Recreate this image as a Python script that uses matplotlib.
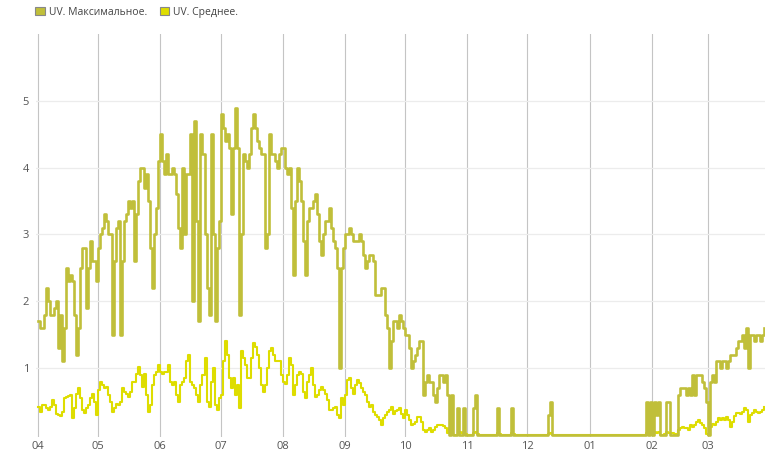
import pandas as pd
import matplotlib
matplotlib.use("Agg")
from matplotlib import pyplot as plt
import matplotlib.dates as mdates
from matplotlib.patches import Patch

plt.rcParams['font.family'] = ['Open Sans', 'DejaVu Sans']

start_date = '2021-04-01'
series_names = ['UV. Максимальное.', 'UV. Среднее.']
max_colour = '#c0bf3a'
avg_colour = '#dedd00'

# daily maximum UV, one row per month (Apr .. Mar)
uv_max = [
    1.7, 1.6, 1.6, 1.8, 2.2, 2.0, 1.8, 1.8, 1.9, 2.0, 1.3, 1.8, 1.1, 1.6, 2.5, 2.3, 2.4, 2.3, 1.8, 1.2, 1.6, 2.5, 2.8, 2.8, 1.9, 2.5, 2.9, 2.6, 2.6, 2.3,
    2.8, 3.0, 3.1, 3.3, 3.2, 3.0, 3.0, 1.5, 2.6, 3.1, 3.2, 1.5, 2.6, 3.2, 3.3, 3.5, 3.4, 3.5, 2.6, 3.3, 3.8, 4.0, 4.0, 3.7, 3.9, 3.5, 2.8, 2.2, 3.0, 3.4, 4.1,
    4.5, 4.1, 3.9, 4.2, 3.9, 3.9, 4.0, 3.9, 3.6, 3.1, 2.8, 4.0, 3.0, 3.9, 3.9, 4.5, 2.0, 4.7, 3.2, 1.7, 4.5, 4.2, 3.0, 2.2, 1.8, 4.5, 3.0, 1.7, 2.8, 3.2,
    4.8, 4.6, 4.4, 4.5, 4.3, 3.3, 4.3, 4.9, 4.3, 1.8, 3.0, 4.2, 4.1, 4.0, 4.2, 4.6, 4.8, 4.6, 4.4, 4.3, 4.2, 4.2, 2.8, 3.0, 4.5, 4.2, 4.2, 4.1, 4.0, 4.2, 4.3,
    4.3, 4.0, 3.9, 4.0, 3.4, 2.4, 3.5, 4.0, 3.8, 3.5, 2.9, 2.4, 3.2, 3.4, 3.4, 3.5, 3.6, 3.3, 2.9, 2.7, 3.0, 3.2, 3.2, 3.4, 3.1, 2.9, 2.8, 2.5, 1.0, 2.5, 2.8,
    3.0, 3.0, 3.1, 3.0, 2.9, 2.9, 2.9, 3.0, 2.9, 2.7, 2.5, 2.6, 2.7, 2.7, 2.6, 2.1, 2.1, 2.1, 2.2, 2.2, 1.8, 1.6, 1.0, 1.4, 1.7, 1.7, 1.6, 1.8, 1.7, 1.6,
    1.5, 1.5, 1.3, 1.0, 1.1, 1.2, 1.3, 1.4, 1.4, 0.6, 0.8, 0.9, 0.8, 0.8, 0.6, 0.5, 0.7, 0.9, 0.9, 0.8, 0.9, 0.6, 0.0, 0.6, 0.0, 0.0, 0.4, 0.0, 0.0, 0.4, 0.0,
    0.0, 0.0, 0.0, 0.4, 0.6, 0.0, 0.0, 0.0, 0.0, 0.0, 0.0, 0.0, 0.0, 0.0, 0.0, 0.4, 0.0, 0.0, 0.0, 0.0, 0.0, 0.0, 0.4, 0.0, 0.0, 0.0, 0.0, 0.0, 0.0, 0.0,
    0.0, 0.0, 0.0, 0.0, 0.0, 0.0, 0.0, 0.0, 0.0, 0.0, 0.3, 0.5, 0.0, 0.0, 0.0, 0.0, 0.0, 0.0, 0.0, 0.0, 0.0, 0.0, 0.0, 0.0, 0.0, 0.0, 0.0, 0.0, 0.0, 0.0, 0.0,
    0.0, 0.0, 0.0, 0.0, 0.0, 0.0, 0.0, 0.0, 0.0, 0.0, 0.0, 0.0, 0.0, 0.0, 0.0, 0.0, 0.0, 0.0, 0.0, 0.0, 0.0, 0.0, 0.0, 0.0, 0.0, 0.0, 0.0, 0.0, 0.5, 0.0, 0.5,
    0.0, 0.5, 0.3, 0.5, 0.0, 0.0, 0.0, 0.5, 0.5, 0.0, 0.0, 0.0, 0.0, 0.6, 0.7, 0.7, 0.7, 0.6, 0.7, 0.6, 0.9, 0.6, 0.9, 0.9, 0.9, 0.8, 0.7, 0.5,
    0.0, 0.8, 0.9, 0.8, 1.1, 1.1, 1.0, 1.1, 1.1, 1.0, 1.1, 1.2, 1.2, 1.2, 1.3, 1.4, 1.4, 1.5, 1.3, 1.6, 1.0, 1.5, 1.5, 1.4, 1.5, 1.5, 1.4, 1.5, 1.6,
]

# daily average UV
uv_avg = [
    0.42, 0.35, 0.45, 0.45, 0.4, 0.38, 0.42, 0.52, 0.45, 0.32, 0.3, 0.28, 0.35, 0.55, 0.57, 0.58, 0.6, 0.25, 0.4, 0.62, 0.7, 0.55, 0.38, 0.33, 0.4, 0.45, 0.55, 0.62, 0.5, 0.3,
    0.67, 0.8, 0.75, 0.7, 0.72, 0.6, 0.5, 0.35, 0.4, 0.47, 0.45, 0.5, 0.7, 0.65, 0.62, 0.57, 0.65, 0.8, 0.8, 0.92, 1.02, 0.9, 0.72, 0.92, 0.6, 0.35, 0.45, 0.75, 0.9, 0.95, 1.05,
    0.95, 0.92, 0.95, 0.95, 1.05, 0.8, 0.75, 0.8, 0.6, 0.5, 0.75, 0.8, 0.85, 1.1, 1.2, 0.8, 0.75, 0.7, 0.6, 0.5, 0.75, 0.9, 1.15, 0.5, 0.42, 0.8, 1.0, 0.45, 0.38, 0.55,
    0.6, 1.1, 1.4, 1.2, 0.85, 0.7, 0.85, 0.6, 0.75, 0.4, 1.25, 1.15, 1.05, 0.85, 0.85, 1.15, 1.37, 1.32, 1.2, 1.0, 0.75, 0.65, 0.75, 1.0, 1.25, 1.3, 1.2, 1.1, 1.1, 1.1, 0.9,
    0.8, 0.77, 0.9, 1.15, 1.05, 0.6, 0.75, 0.9, 0.95, 0.92, 0.65, 0.55, 0.8, 0.9, 1.0, 0.75, 0.57, 0.6, 0.68, 0.72, 0.67, 0.62, 0.52, 0.38, 0.37, 0.4, 0.42, 0.3, 0.25, 0.55, 0.45,
    0.6, 0.82, 0.85, 0.7, 0.62, 0.75, 0.82, 0.78, 0.7, 0.65, 0.6, 0.5, 0.42, 0.45, 0.35, 0.3, 0.27, 0.22, 0.15, 0.25, 0.3, 0.35, 0.38, 0.42, 0.32, 0.36, 0.38, 0.4, 0.32, 0.25,
    0.38, 0.3, 0.22, 0.15, 0.17, 0.2, 0.27, 0.27, 0.2, 0.07, 0.05, 0.08, 0.1, 0.05, 0.08, 0.12, 0.15, 0.15, 0.15, 0.13, 0.1, 0.03, 0.1, 0.05, 0.0, 0.0, 0.0, 0.05, 0.03, 0.05, 0.02,
    0.0, 0.0, 0.0, 0.03, 0.05, 0.02, 0.0, 0.0, 0.0, 0.0, 0.0, 0.0, 0.0, 0.0, 0.0, 0.03, 0.02, 0.0, 0.0, 0.0, 0.0, 0.0, 0.03, 0.02, 0.0, 0.0, 0.0, 0.0, 0.0, 0.0,
    0.0, 0.0, 0.0, 0.0, 0.0, 0.0, 0.0, 0.0, 0.0, 0.0, 0.02, 0.03, 0.0, 0.0, 0.0, 0.0, 0.0, 0.0, 0.0, 0.0, 0.0, 0.0, 0.0, 0.0, 0.0, 0.0, 0.0, 0.0, 0.0, 0.0, 0.0,
    0.0, 0.0, 0.0, 0.0, 0.0, 0.0, 0.0, 0.0, 0.0, 0.0, 0.0, 0.0, 0.0, 0.0, 0.0, 0.0, 0.0, 0.0, 0.0, 0.0, 0.0, 0.0, 0.0, 0.0, 0.0, 0.0, 0.0, 0.0, 0.03, 0.0, 0.03,
    0.02, 0.05, 0.03, 0.05, 0.0, 0.0, 0.02, 0.05, 0.03, 0.03, 0.03, 0.02, 0.02, 0.08, 0.1, 0.12, 0.1, 0.1, 0.08, 0.15, 0.12, 0.15, 0.2, 0.22, 0.18, 0.15, 0.1, 0.02,
    0.0, 0.12, 0.17, 0.15, 0.2, 0.25, 0.23, 0.25, 0.23, 0.27, 0.22, 0.12, 0.2, 0.28, 0.33, 0.33, 0.32, 0.35, 0.4, 0.38, 0.2, 0.3, 0.33, 0.37, 0.35, 0.33, 0.35, 0.38, 0.42,
]

y_ticks = [1, 2, 3, 4, 5]

dates = pd.date_range(start_date, periods=len(uv_max), freq='D')

fig = plt.figure(figsize=(7.65, 4.51), dpi=100)
ax = fig.add_axes([36 / 765, 14 / 451, 729 / 765, 403 / 451])

ax.plot(dates, uv_avg, color=avg_colour, lw=1.5, drawstyle='steps-post', zorder=3)
ax.plot(dates, uv_max, color=max_colour, lw=1.9, drawstyle='steps-post', zorder=4)

ax.set_xlim(dates[0] - pd.Timedelta(days=1), dates[-1] + pd.Timedelta(hours=10))
ax.set_ylim(-0.03, 6.0)

ax.xaxis.set_major_locator(mdates.MonthLocator())
ax.xaxis.set_major_formatter(mdates.DateFormatter('%m'))
ax.set_yticks(y_ticks)

ax.grid(axis='x', color='#c4c4c4', lw=0.8, zorder=1)
ax.grid(axis='y', color='#ececec', lw=0.9, zorder=0)
for side in ['top', 'right', 'left', 'bottom']:
    ax.spines[side].set_visible(False)
ax.tick_params(axis='both', length=0, labelsize=8, colors='#555555')
ax.tick_params(axis='x', pad=3)
ax.tick_params(axis='y', pad=5)

handles = [Patch(facecolor=max_colour, edgecolor='#888888', lw=0.8),
           Patch(facecolor=avg_colour, edgecolor='#888888', lw=0.8)]
fig.legend(handles, series_names, loc='upper left', bbox_to_anchor=(26 / 765, 1.006),
           ncol=2, frameon=False, fontsize=7.5, handlelength=0.9, handleheight=0.9,
           handletextpad=0.4, columnspacing=1.2, labelcolor='#444444')

fig.savefig('out.png', dpi=100)
